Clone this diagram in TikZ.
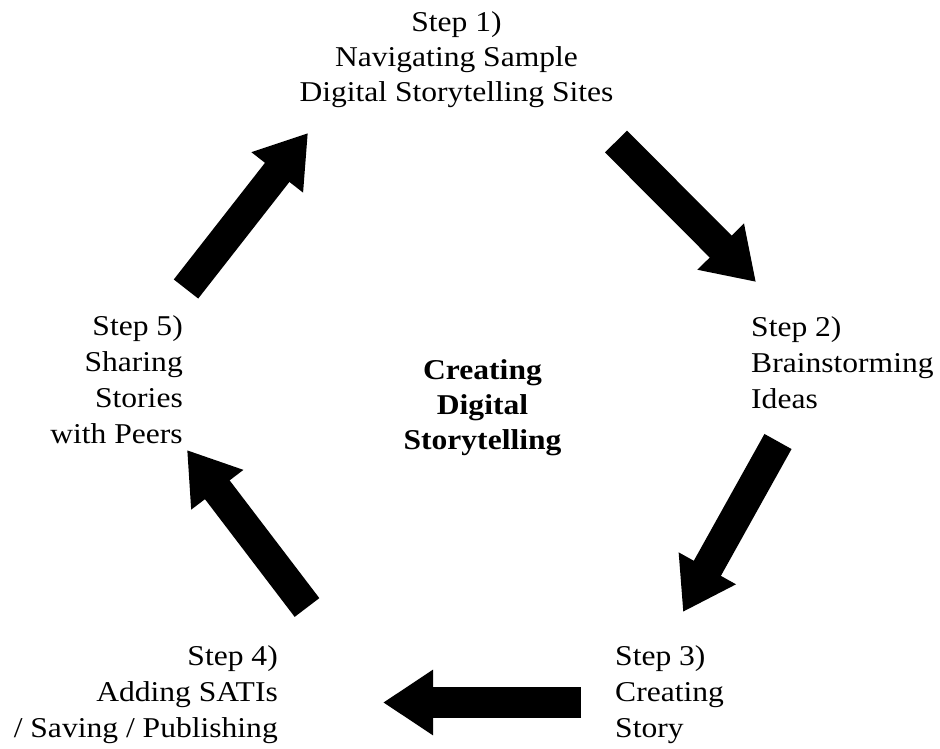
\documentclass[tikz,border=0pt]{standalone}
\usepackage{fontspec}
\setmainfont{Liberation Serif}[FakeStretch=1.1]
\usetikzlibrary{arrows.meta}
\tikzset{
  lbl/.style={inner sep=0pt, font=\fontsize{28.7}{36}\selectfont},
  bigarrow/.style={line width=31pt, -{Triangle[width=62pt,length=50pt]}, black}
}
\begin{document}
\begin{tikzpicture}[x=1pt,y=1pt]
\useasboundingbox (0,0) rectangle (940,-749);
% labels (anchor base = baseline of the last line)
\node[lbl, align=center, anchor=base, font=\fontsize{28.7}{35}\selectfont] (s1) at (456.5,-102) {Step 1)\\Navigating Sample\\Digital Storytelling Sites};
\node[lbl, align=left, anchor=base west] (s2) at (751,-408) {Step 2)\\Brainstorming\\Ideas};
\node[lbl, align=left, anchor=base west] (s3) at (615,-737) {Step 3)\\Creating\\Story};
\node[lbl, align=right, anchor=base east] (s4) at (278,-737) {Step 4)\\Adding SATIs\\/ Saving / Publishing};
\node[lbl, align=right, anchor=base east] (s5) at (183,-443) {Step 5)\\Sharing\\Stories\\with Peers};
\node[lbl, align=center, anchor=base, font=\fontsize{28.7}{35}\selectfont\bfseries] (c) at (482.5,-449) {Creating\\Digital\\Storytelling};
% arrow ends
\coordinate (a1s) at (616,-141.5);  \coordinate (a1e) at (756,-282);
\coordinate (a2s) at (778,-441.5);  \coordinate (a2e) at (683,-612);
\coordinate (a3s) at (581,-702.5);  \coordinate (a3e) at (383,-702.5);
\coordinate (a4s) at (307,-607.5);  \coordinate (a4e) at (187,-450);
\coordinate (a5s) at (186,-289);    \coordinate (a5e) at (308,-133);
\draw[bigarrow] (a1s) -- (a1e);
\draw[bigarrow] (a2s) -- (a2e);
\draw[bigarrow] (a3s) -- (a3e);
\draw[bigarrow] (a4s) -- (a4e);
\draw[bigarrow] (a5s) -- (a5e);
\end{tikzpicture}
\end{document}
